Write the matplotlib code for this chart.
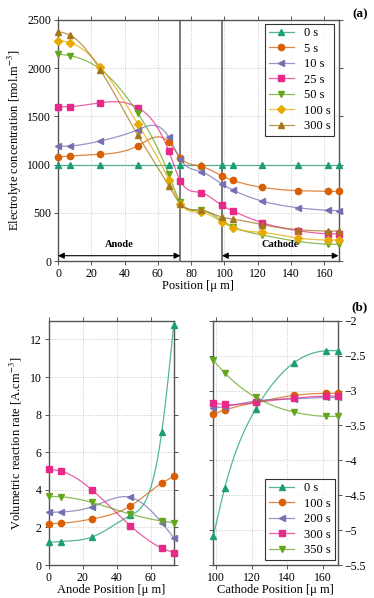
import numpy as np
import matplotlib.pyplot as plt
from matplotlib.lines import Line2D

# ---- data ----
pos = [0, 7, 25.5, 48, 66.5, 73.5, 86, 98.5, 105, 122.5, 144, 162, 168.5]
conc_labels = ["0 s", "5 s", "10 s", "25 s", "50 s", "100 s", "300 s"]
conc_0 = [1000] * 13
conc_5 = [1079, 1089, 1107, 1196, 1234, 1072, 982, 882, 837, 764, 730, 723, 721]
conc_10 = [1189, 1193, 1245, 1362, 1286, 1055, 927, 799, 737, 622, 553, 526, 522]
conc_25 = [1601, 1601, 1642, 1591, 1141, 833, 709, 577, 519, 398, 315, 282, 280]
conc_50 = [2147, 2130, 1988, 1532, 899, 609, 529, 418, 356, 270, 204, 175, 173]
conc_100 = [2286, 2265, 2016, 1421, 840, 595, 505, 405, 346, 297, 239, 218, 218]
conc_300 = [2379, 2344, 1981, 1304, 781, 595, 526, 456, 436, 377, 325, 311, 311]

anode_pos = [0, 7, 25.5, 48, 66.5, 73.5]
cathode_pos = [98.5, 105, 122.5, 144, 162, 168.5]
rate_labels = ["0 s", "100 s", "200 s", "300 s", "350 s"]
anode_0 = [1.2, 1.25, 1.49, 2.64, 7.09, 12.76]
anode_100 = [2.2, 2.22, 2.45, 3.14, 4.36, 4.71]
anode_200 = [2.8, 2.82, 3.1, 3.6, 2.25, 1.45]
anode_300 = [5.09, 5.0, 3.99, 2.09, 0.9, 0.66]
anode_350 = [3.65, 3.63, 3.33, 2.71, 2.34, 2.25]
cathode_0 = [-5.09, -4.39, -3.26, -2.6, -2.43, -2.43]
cathode_100 = [-3.34, -3.28, -3.17, -3.07, -3.04, -3.04]
cathode_200 = [-3.25, -3.23, -3.15, -3.12, -3.1, -3.1]
cathode_300 = [-3.18, -3.2, -3.17, -3.11, -3.08, -3.08]
cathode_350 = [-2.57, -2.75, -3.1, -3.31, -3.37, -3.37]

colors7 = ['#1b9e77', '#d95f02', '#7570b3', '#e7298a', '#66a61e', '#e6ab02', '#a6761d']
markers7 = ['^', 'o', '<', 's', 'v', 'D', '^']
colors5 = ['#1b9e77', '#d95f02', '#7570b3', '#e7298a', '#66a61e']
markers5 = ['^', 'o', '<', 's', 'v']

plt.rcParams['font.family'] = ['Liberation Serif', 'DejaVu Serif']
plt.rcParams['mathtext.fontset'] = 'stix'
plt.rcParams['font.size'] = 9


def csplines(x, y, n=300):
    # natural cubic spline through the points (like gnuplot "smooth csplines")
    x = np.asarray(x, float)
    y = np.asarray(y, float)
    m = len(x)
    h = np.diff(x)
    A = np.zeros((m, m))
    b = np.zeros(m)
    A[0, 0] = A[-1, -1] = 1
    for i in range(1, m - 1):
        A[i, i - 1] = h[i - 1]
        A[i, i] = 2 * (h[i - 1] + h[i])
        A[i, i + 1] = h[i]
        b[i] = 3 * ((y[i + 1] - y[i]) / h[i] - (y[i] - y[i - 1]) / h[i - 1])
    c = np.linalg.solve(A, b)
    bs = (y[1:] - y[:-1]) / h - h * (2 * c[:-1] + c[1:]) / 3
    ds = (c[1:] - c[:-1]) / (3 * h)
    xs = np.linspace(x[0], x[-1], n)
    k = np.clip(np.searchsorted(x, xs) - 1, 0, m - 2)
    dx = xs - x[k]
    return xs, y[k] + bs[k] * dx + c[k] * dx ** 2 + ds[k] * dx ** 3


def style(ax):
    ax.grid(True, linestyle=':', color='#c8c8c8', linewidth=0.7)
    ax.set_axisbelow(True)
    for s in ax.spines.values():
        s.set_color('#555555')
        s.set_linewidth(1.0)
    ax.tick_params(direction='out', length=3, width=0.7, color='#555555',
                   top=True, right=True, labelsize=8.5, pad=2)


def draw(ax, x, ys, labels, colors, markers):
    handles = []
    for y, lab, c, mk in zip(ys, labels, colors, markers):
        ms = 4.5 if mk != 'D' else 3.8
        xs, yy = csplines(x, y)
        ax.plot(xs, yy, color=c, lw=0.9, alpha=0.75, zorder=3)
        ax.plot(x, y, ls='none', marker=mk, color=c, ms=ms, zorder=4, clip_on=False)
        handles.append((Line2D([], [], color=c, lw=0.9, alpha=0.75),
                        Line2D([], [], ls='none', marker=mk, color=c, ms=ms)))
    return handles


legend_kw = dict(fontsize=9, frameon=True, fancybox=False, edgecolor='black',
                 handlelength=2.0, borderpad=0.3, labelspacing=0.28,
                 handletextpad=0.8, borderaxespad=0)

fig = plt.figure(figsize=(3.74, 5.98), dpi=100)
W, H = 374, 598

# ---- (a) ----
ax = fig.add_axes([58 / W, 1 - 261 / H, (338.5 - 58) / W, (261 - 20) / H])
style(ax)
h = draw(ax, pos, [conc_0, conc_5, conc_10, conc_25, conc_50, conc_100, conc_300],
         conc_labels, colors7, markers7)
ax.axvline(73.5, color='#555555', lw=1.1, zorder=2)
ax.axvline(98.5, color='#555555', lw=1.1, zorder=2)
ax.set_xlim(0, 168.5)
ax.set_ylim(0, 2500)
ax.set_xticks(range(0, 161, 20))
ax.set_yticks(range(0, 2501, 500))
ax.set_xlabel('Position [μ m]', labelpad=0)
ax.set_ylabel('Electrolyte concentration [mol.m$^{-3}$]', labelpad=2)
for x0, x1, txt in [(0, 73.5, 'Anode'), (98.5, 168.5, 'Cathode')]:
    ax.annotate('', xy=(x0, 55), xytext=(x1, 55),
                arrowprops=dict(arrowstyle='<|-|>', color='black', lw=0.8,
                                mutation_scale=9, shrinkA=0, shrinkB=0))
    ax.text((x0 + x1) / 2, 120, txt, ha='center', va='bottom', fontsize=7.5,
            fontweight='bold')
ax.legend(h, conc_labels, loc='upper right', bbox_to_anchor=(0.985, 0.985),
          **legend_kw).get_frame().set_linewidth(0.8)
fig.text(360 / W, 1 - 14 / H, '(a)', ha='center', va='center', fontweight='bold',
         fontsize=9.5)

# ---- (b) anode ----
ax2 = fig.add_axes([48.7 / W, 1 - 565 / H, (173.7 - 48.7) / W, (565 - 320.7) / H])
style(ax2)
draw(ax2, anode_pos, [anode_0, anode_100, anode_200, anode_300, anode_350],
     rate_labels, colors5, markers5)
ax2.set_xlim(0, 73.5)
ax2.set_ylim(0, 13)
ax2.set_xticks(range(0, 61, 20))
ax2.set_yticks(range(0, 13, 2))
ax2.set_xlabel('Anode Position [μ m]', labelpad=0)
ax2.set_ylabel('Volumetric reaction rate [A.cm$^{-3}$]', labelpad=4)

# ---- (b) cathode ----
ax3 = fig.add_axes([213.3 / W, 1 - 565 / H, (337.7 - 213.3) / W, (565 - 320.7) / H])
style(ax3)
h3 = draw(ax3, cathode_pos, [cathode_0, cathode_100, cathode_200, cathode_300, cathode_350],
          rate_labels, colors5, markers5)
ax3.set_xlim(98.5, 168.5)
ax3.set_ylim(-5.5, -2)
ax3.set_xticks(range(100, 161, 20))
ax3.set_yticks(np.arange(-5.5, -1.9, 0.5))
ax3.yaxis.set_major_formatter(plt.FuncFormatter(lambda v, p: f'{v:g}'.replace('-', '\u2212')))
ax3.tick_params(labelleft=False, labelright=True)
ax3.set_xlabel('Cathode Position [μ m]', labelpad=0)
ax3.legend(h3, rate_labels, loc='lower right', bbox_to_anchor=(0.975, 0.02),
           **legend_kw).get_frame().set_linewidth(0.8)
fig.text(359 / W, 1 - 307 / H, '(b)', ha='center', va='center', fontweight='bold',
         fontsize=9.5)

fig.savefig('out.png', dpi=100)
